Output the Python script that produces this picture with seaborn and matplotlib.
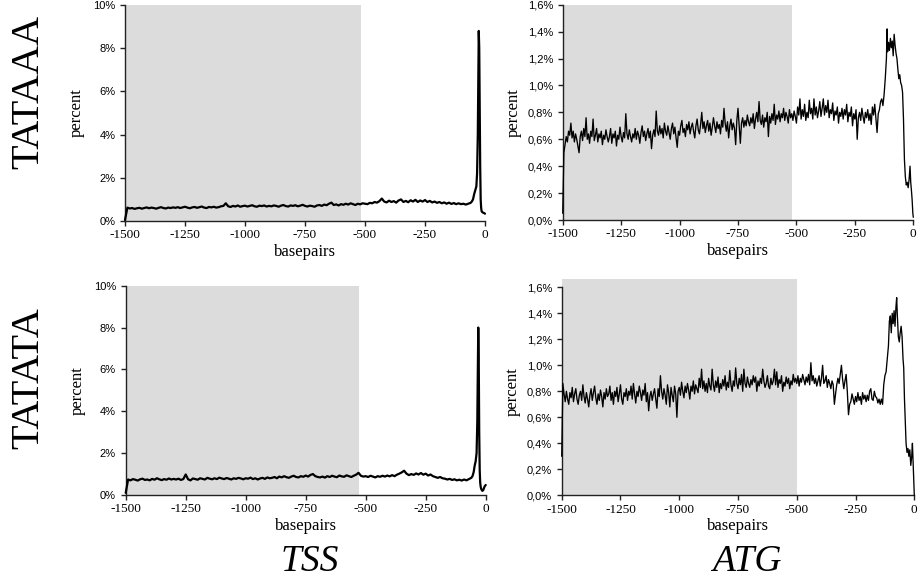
import numpy as np
import pandas as pd
import matplotlib
matplotlib.use("Agg")
import matplotlib.pyplot as plt
from matplotlib.ticker import FixedLocator
import seaborn as sns

# ---------------- data (percent of sequences, by position in basepairs) ----------------
TSS_STEP = 10   # TSS bodies sampled every 10 bp from -1500
ATG_STEP = 5    # ATG bodies sampled every 5 bp from -1500

# TSS / TATAAA
tss_tataaa_body = [
    0.05,
    0.62, 0.58, 0.60, 0.56, 0.59, 0.61, 0.57, 0.60, 0.63, 0.59, 0.62, 0.60, 0.57, 0.61, 0.64, 0.60, 0.58, 0.62, 0.60, 0.63,
    0.61, 0.64, 0.60, 0.63, 0.66, 0.62, 0.59, 0.63, 0.65, 0.61, 0.64, 0.67, 0.62, 0.60, 0.65, 0.63, 0.66, 0.62, 0.64, 0.68,
    0.70, 0.82, 0.68, 0.65, 0.70, 0.67, 0.72, 0.66, 0.69, 0.71, 0.67, 0.70, 0.73, 0.68, 0.66, 0.71, 0.69, 0.72, 0.67, 0.70,
    0.68, 0.72, 0.70, 0.66, 0.71, 0.74, 0.69, 0.67, 0.72, 0.70, 0.73, 0.68, 0.71, 0.75, 0.70, 0.67, 0.71, 0.69, 0.66, 0.72,
    0.74, 0.70, 0.76, 0.73, 0.80, 0.85, 0.74, 0.77, 0.72, 0.78, 0.75, 0.80, 0.76, 0.82, 0.78, 0.74, 0.80, 0.77, 0.82,
    0.80, 0.78, 0.84, 0.82, 0.88, 0.85, 0.92, 1.04, 0.90, 0.86, 0.94, 0.88, 0.92, 0.85, 0.95, 1.00, 0.88, 0.93, 0.87, 0.96,
    0.90, 0.98, 0.88, 0.95, 0.90, 0.97, 0.88, 0.93, 0.86, 0.90, 0.84, 0.88, 0.82, 0.86, 0.80, 0.85, 0.79, 0.83, 0.78, 0.82,
    0.78, 0.80, 0.76, 0.80, 0.84,
]
tss_tataaa_tail_bp = [-55, -50, -45, -40, -36, -33, -30, -28, -26, -24, -22, -20, -18, -16, -14, -12, -10, -7, -4, -2, 0]
tss_tataaa_tail = [0.90, 1.00, 1.25, 1.45, 1.60, 2.2, 4.0, 6.5, 8.8, 8.0, 5.0, 2.5, 1.0, 0.6, 0.45, 0.42, 0.40, 0.38, 0.37, 0.35, 0.34]

# TSS / TATATA
tss_tatata_body = [
    0.10,
    0.74, 0.70, 0.76, 0.73, 0.69, 0.75, 0.78, 0.72, 0.74, 0.70, 0.77, 0.73, 0.80, 0.75, 0.71, 0.76, 0.73, 0.79, 0.74, 0.77,
    0.74, 0.78, 0.72, 0.76, 0.98, 0.75, 0.70, 0.79, 0.76, 0.73, 0.80, 0.77, 0.74, 0.82, 0.78, 0.75, 0.80, 0.76, 0.83, 0.79,
    0.76, 0.81, 0.78, 0.74, 0.80, 0.77, 0.82, 0.79, 0.75, 0.80, 0.78, 0.83, 0.76, 0.80, 0.74, 0.79, 0.82, 0.77, 0.84, 0.80,
    0.82, 0.86, 0.80, 0.88, 0.84, 0.90, 0.85, 0.82, 0.88, 0.92, 0.86, 0.84, 0.90, 0.87, 0.93, 0.88, 0.96, 1.00, 0.90, 0.86,
    0.84, 0.88, 0.83, 0.90, 0.86, 0.92, 0.88, 0.85, 0.93, 0.89, 0.87, 0.94, 0.90, 0.86, 0.92, 0.97, 1.06, 0.92, 0.88,
    0.90, 0.86, 0.92, 0.88, 0.84, 0.90, 0.87, 0.92, 0.88, 0.93, 0.89, 0.95, 0.90, 0.97, 1.02, 1.08, 1.16, 1.02, 0.95, 1.00,
    0.96, 1.03, 0.98, 1.05, 0.97, 1.02, 0.93, 0.98, 0.90, 0.86, 0.82, 0.86, 0.80, 0.78, 0.74, 0.77, 0.72, 0.75, 0.70, 0.73,
    0.69, 0.74, 0.70, 0.76, 0.82,
]
tss_tatata_tail_bp = [-55, -50, -46, -42, -38, -35, -33, -31, -29, -27, -25, -23, -21, -19, -17, -14, -11, -8, -5, -2, 0]
tss_tatata_tail = [0.90, 1.10, 1.40, 1.60, 2.0, 3.5, 6.0, 8.0, 6.5, 3.0, 1.2, 0.6, 0.40, 0.30, 0.25, 0.20, 0.22, 0.30, 0.40, 0.45, 0.48]

# ATG / TATAAA (every 5 bp, -1500 .. -140)
atg_tataaa_body = [
    0.05, 0.50, 0.56, 0.62, 0.58, 0.66, 0.63, 0.72, 0.61, 0.66, 0.58, 0.64, 0.60, 0.55, 0.50, 0.62, 0.66, 0.59, 0.68, 0.62,
    0.76, 0.60, 0.64, 0.57, 0.66, 0.62, 0.75, 0.59, 0.63, 0.68, 0.58, 0.64, 0.61, 0.66, 0.56, 0.63, 0.60, 0.67, 0.62, 0.58,
    0.62, 0.68, 0.57, 0.64, 0.61, 0.66, 0.55, 0.63, 0.60, 0.69, 0.62, 0.58, 0.65, 0.61, 0.79, 0.64, 0.60, 0.67, 0.62, 0.58,
    0.64, 0.61, 0.68, 0.60, 0.66, 0.63, 0.57, 0.65, 0.70, 0.62, 0.66, 0.59, 0.64, 0.68, 0.61, 0.66, 0.53, 0.63, 0.67, 0.62,
    0.81, 0.66, 0.63, 0.70, 0.64, 0.68, 0.61, 0.72, 0.66, 0.63, 0.70, 0.65, 0.60, 0.68, 0.72, 0.64, 0.69, 0.61, 0.54, 0.66,
    0.63, 0.70, 0.74, 0.65, 0.68, 0.62, 0.71, 0.67, 0.73, 0.64, 0.69, 0.72, 0.66, 0.61, 0.70, 0.75, 0.67, 0.64, 0.71, 0.80,
    0.68, 0.73, 0.65, 0.70, 0.74, 0.66, 0.72, 0.63, 0.69, 0.76, 0.70, 0.65, 0.73, 0.68, 0.71, 0.64, 0.74, 0.69, 0.83, 0.72,
    0.66, 0.73, 0.61, 0.70, 0.75, 0.67, 0.72, 0.68, 0.56, 0.74, 0.83, 0.70, 0.57, 0.72, 0.76, 0.69, 0.74, 0.70, 0.78, 0.73,
    0.70, 0.76, 0.72, 0.79, 0.68, 0.75, 0.80, 0.73, 0.88, 0.74, 0.71, 0.78, 0.69, 0.76, 0.73, 0.80, 0.62, 0.77, 0.72, 0.79,
    0.74, 0.86, 0.71, 0.78, 0.75, 0.81, 0.73, 0.79, 0.76, 0.83, 0.74, 0.80, 0.77, 0.72, 0.82, 0.76, 0.79, 0.74, 0.81, 0.77,
    0.72, 0.84, 0.78, 0.90, 0.75, 0.82, 0.77, 0.86, 0.74, 0.80, 0.76, 0.89, 0.79, 0.83, 0.75, 0.90, 0.78, 0.84, 0.76, 0.81,
    0.88, 0.77, 0.83, 0.90, 0.78, 0.85, 0.80, 0.89, 0.76, 0.82, 0.79, 0.87, 0.74, 0.81, 0.78, 0.84, 0.72, 0.80, 0.77, 0.83,
    0.75, 0.82, 0.78, 0.86, 0.73, 0.80, 0.77, 0.84, 0.70, 0.79, 0.75, 0.82, 0.60, 0.76, 0.80, 0.74, 0.83, 0.77, 0.72, 0.80,
    0.76, 0.82, 0.74, 0.79, 0.71, 0.84, 0.78, 0.86, 0.75, 0.65, 0.79, 0.82, 0.88,
]
atg_tataaa_tail_bp = [-135, -130, -125, -120, -115, -112, -110, -106, -102, -98, -94, -90, -86, -82, -78, -74, -70, -66,
                      -62, -58, -54, -50, -46, -42, -38, -34, -30, -26, -22, -18, -14, -11, -8, -5, -2, 0]
atg_tataaa_tail = [0.90, 0.85, 0.93, 1.05, 1.20, 1.42, 1.25, 1.32, 1.26, 1.35, 1.28, 1.33, 1.22, 1.38, 1.30, 1.24, 1.20, 1.12,
                   1.05, 1.08, 1.02, 1.00, 0.95, 0.75, 0.45, 0.32, 0.26, 0.28, 0.24, 0.30, 0.40, 0.28, 0.22, 0.15, 0.05, 0.02]

# ATG / TATATA (every 5 bp, -1500 .. -140)
atg_tatata_body = [
    0.30, 0.86, 0.78, 0.72, 0.80, 0.74, 0.70, 0.79, 0.75, 0.83, 0.72, 0.78, 0.82, 0.74, 0.70, 0.77, 0.80, 0.73, 0.85, 0.76,
    0.71, 0.79, 0.74, 0.68, 0.77, 0.82, 0.73, 0.79, 0.84, 0.75, 0.70, 0.78, 0.73, 0.81, 0.76, 0.68, 0.79, 0.74, 0.82, 0.76,
    0.78, 0.84, 0.73, 0.79, 0.70, 0.80, 0.76, 0.83, 0.72, 0.78, 0.85, 0.74, 0.70, 0.79, 0.76, 0.82, 0.73, 0.80, 0.77, 0.84,
    0.74, 0.86, 0.78, 0.71, 0.80, 0.76, 0.84, 0.79, 0.73, 0.81, 0.77, 0.86, 0.72, 0.79, 0.65, 0.76, 0.80, 0.73, 0.78, 0.82,
    0.74, 0.67, 0.82, 0.76, 0.92, 0.80, 0.74, 0.82, 0.77, 0.70, 0.85, 0.79, 0.68, 0.83, 0.77, 0.72, 0.84, 0.78, 0.60, 0.80,
    0.83, 0.77, 0.87, 0.80, 0.75, 0.84, 0.79, 0.86, 0.81, 0.74, 0.84, 0.80, 0.88, 0.78, 0.85, 0.82, 0.79, 0.90, 0.83, 0.97,
    0.82, 0.88, 0.80, 0.86, 0.79, 0.90, 0.84, 0.81, 0.97, 0.85, 0.80, 0.88, 0.83, 0.91, 0.79, 0.86, 0.82, 0.89, 0.84, 0.92,
    0.81, 0.87, 0.83, 0.96, 0.85, 0.80, 0.88, 0.84, 0.98, 0.86, 0.82, 0.90, 0.85, 0.93, 0.80, 0.97, 0.86, 0.83, 0.91, 0.86,
    0.83, 0.89, 0.85, 0.92, 0.87, 0.91, 0.80, 0.88, 0.84, 0.90, 0.86, 0.97, 0.88, 0.83, 0.86, 0.92, 0.84, 0.82, 0.90, 0.85,
    0.88, 0.97, 0.85, 0.95, 0.83, 0.89, 0.86, 0.92, 0.80, 0.87, 0.84, 0.91, 0.86, 0.90, 0.82, 0.88, 0.85, 0.93, 0.87, 0.90,
    0.86, 0.92, 0.84, 0.90, 0.87, 0.93, 0.89, 0.85, 0.91, 0.87, 0.93, 0.85, 1.02, 0.88, 0.92, 0.86, 0.90, 0.84, 0.88, 0.92,
    0.84, 0.90, 1.00, 0.86, 0.88, 0.92, 0.83, 0.89, 0.86, 0.82, 0.88, 0.85, 0.70, 0.78, 0.85, 0.90, 0.86, 0.93, 1.00, 0.89,
    0.82, 0.88, 0.93, 0.80, 0.62, 0.70, 0.72, 0.78, 0.74, 0.70, 0.76, 0.72, 0.79, 0.73, 0.76, 0.70, 0.79, 0.74, 0.77, 0.72,
    0.77, 0.73, 0.80, 0.82, 0.74, 0.73, 0.80, 0.76, 0.75, 0.71, 0.74, 0.70, 0.74,
]
atg_tatata_tail_bp = [-135, -130, -125, -120, -115, -110, -106, -102, -98, -94, -90, -86, -82, -78, -75, -72, -68, -64,
                      -60, -56, -52, -48, -45, -42, -38, -35, -31, -27, -23, -19, -15, -11, -8, -5, -2, 0]
atg_tatata_tail = [0.70, 0.85, 0.92, 0.95, 1.05, 1.15, 1.34, 1.38, 1.25, 1.40, 1.32, 1.42, 1.30, 1.45, 1.52, 1.38, 1.22, 1.18,
                   1.25, 1.30, 1.22, 1.05, 0.98, 0.75, 0.55, 0.40, 0.33, 0.36, 0.30, 0.35, 0.23, 0.30, 0.40, 0.25, 0.08, 0.0]

row_labels = ["TATAAA", "TATATA"]
col_labels = ["TSS", "ATG"]
x_ticks = [-1500, -1250, -1000, -750, -500, -250, 0]
tss_y_ticks = [0, 2, 4, 6, 8, 10]
tss_y_labels = ["0%", "2%", "4%", "6%", "8%", "10%"]
atg_y_ticks = [0.0, 0.2, 0.4, 0.6, 0.8, 1.0, 1.2, 1.4, 1.6]
atg_y_labels = ["0,0%", "0,2%", "0,4%", "0,6%", "0,8%", "1,0%", "1,2%", "1,4%", "1,6%"]
# shaded (distal) window end, bp
shade_end = {"TSS_TATAAA": -518, "TSS_TATATA": -526, "ATG_TATAAA": -520, "ATG_TATATA": -500}


def series(body, step, tail_bp, tail):
    bp = list(range(-1500, -1500 + step * len(body), step)) + list(tail_bp)
    return pd.DataFrame({"bp": bp, "pct": list(body) + list(tail)})


data = {
    "TSS_TATAAA": series(tss_tataaa_body, TSS_STEP, tss_tataaa_tail_bp, tss_tataaa_tail),
    "TSS_TATATA": series(tss_tatata_body, TSS_STEP, tss_tatata_tail_bp, tss_tatata_tail),
    "ATG_TATAAA": series(atg_tataaa_body, ATG_STEP, atg_tataaa_tail_bp, atg_tataaa_tail),
    "ATG_TATATA": series(atg_tatata_body, ATG_STEP, atg_tatata_tail_bp, atg_tatata_tail),
}

# ---------------- styling ----------------
sns.set_style("ticks")
SERIF = ["Liberation Serif", "DejaVu Serif"]
SANS = ["Liberation Sans", "DejaVu Sans"]
plt.rcParams["font.family"] = SERIF
plt.rcParams["text.color"] = "black"
plt.rcParams["axes.labelcolor"] = "black"
plt.rcParams["xtick.color"] = "black"
plt.rcParams["ytick.color"] = "black"

W, H = 921, 578
fig = plt.figure(figsize=(W / 100, H / 100), dpi=100)


def rect(l, r, t, b):
    return [l / W, 1 - b / H, (r - l) / W, (b - t) / H]


layout = {
    "TSS_TATAAA": rect(125, 485, 5, 221),
    "TSS_TATATA": rect(125.7, 485.7, 285.7, 495),
    "ATG_TATAAA": rect(562.7, 913.3, 4.7, 220),
    "ATG_TATATA": rect(561.7, 914.3, 287.3, 495.3),
}

for key, pos in layout.items():
    ax = fig.add_axes(pos)
    df = data[key]
    is_tss = key.startswith("TSS")
    shade_top = 1.0 if key != "ATG_TATATA" else 1.04
    ax.axvspan(-1500, shade_end[key], ymin=0, ymax=shade_top, color="#dcdcdc", lw=0, zorder=0, clip_on=False)
    sns.lineplot(data=df, x="bp", y="pct", ax=ax, color="black",
                 lw=1.6 if is_tss else 0.95, zorder=3, clip_on=False)
    ax.set_xlim(-1500, 0)
    if is_tss:
        ax.set_ylim(0, 10)
        ax.yaxis.set_major_locator(FixedLocator(tss_y_ticks))
        ax.set_yticklabels(tss_y_labels)
    else:
        ax.set_ylim(0, 1.6)
        ax.yaxis.set_major_locator(FixedLocator(atg_y_ticks))
        ax.set_yticklabels(atg_y_labels)
    ax.xaxis.set_major_locator(FixedLocator(x_ticks))
    ax.set_xticklabels([str(t) for t in x_ticks])
    ax.set_facecolor("none")
    sns.despine(ax=ax)
    for s in ("left", "bottom"):
        ax.spines[s].set_linewidth(1.0)
        ax.spines[s].set_color("#222222")
    ax.tick_params(axis="both", direction="out", length=3.5, width=1.0, color="#222222")
    ax.tick_params(axis="x", pad=2.5)
    ax.tick_params(axis="y", pad=3.5)
    for lab in ax.get_xticklabels():
        lab.set_family(SERIF)
        lab.set_fontsize(9.5)
        lab.set_color("black")
    for lab in ax.get_yticklabels():
        lab.set_family(SANS)
        lab.set_fontsize(8)
        lab.set_color("black")
    ax.set_xlabel("basepairs", fontsize=12, family=SERIF, labelpad=2, color="black")
    ax.set_ylabel("percent", fontsize=12, family=SERIF, labelpad=6 if is_tss else 4, color="black")

# row labels (motif)
fig.text(29 / W, 1 - 92 / H, row_labels[0], rotation=90, ha="center", va="center",
         fontsize=29, family=SERIF, color="black")
fig.text(29 / W, 1 - 378 / H, row_labels[1], rotation=90, ha="center", va="center",
         fontsize=29, family=SERIF, color="black")
# column labels (anchor)
fig.text(310 / W, 1 - 571 / H, col_labels[0], ha="center", va="baseline",
         fontsize=27, family=SERIF, style="italic", color="black")
fig.text(747 / W, 1 - 571 / H, col_labels[1], ha="center", va="baseline",
         fontsize=27, family=SERIF, style="italic", color="black")

fig.savefig("out.png", dpi=100)
